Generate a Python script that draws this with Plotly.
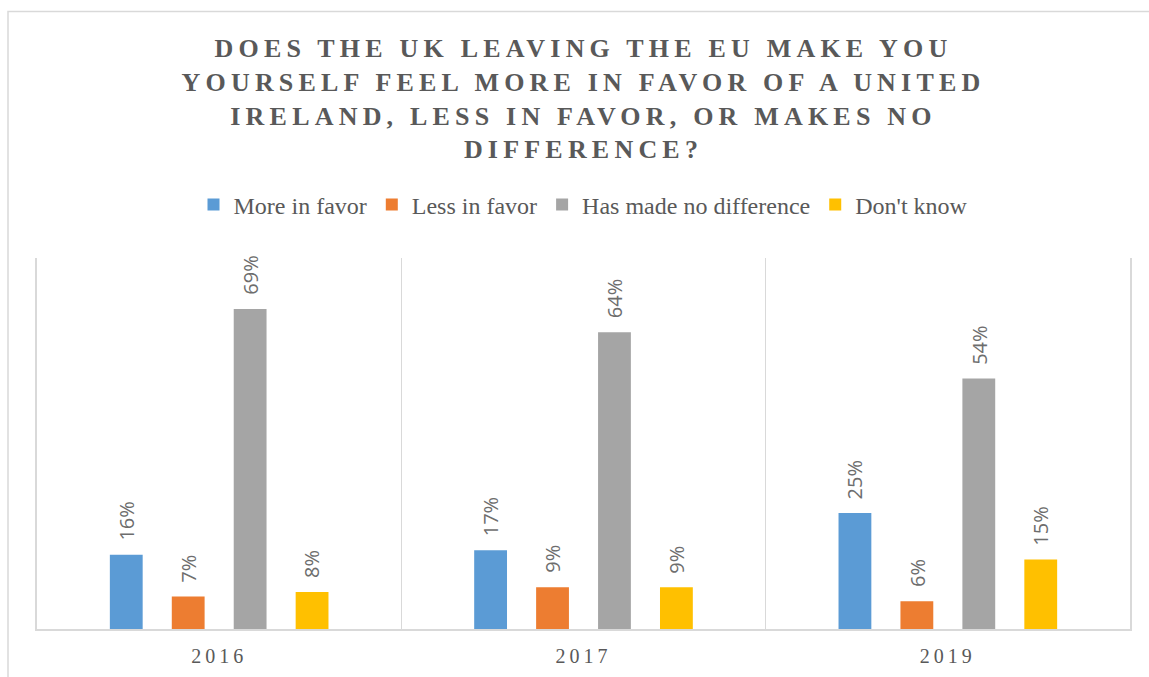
import plotly.graph_objects as go

# Survey years (categories) and responses per series, in percent
years = ["2016", "2017", "2019"]
series_names = ["More in favor", "Less in favor", "Has made no difference", "Don't know"]
more_in_favor = [16, 17, 25]
less_in_favor = [7, 9, 6]
no_difference = [69, 64, 54]
dont_know = [8, 9, 15]

series_values = [more_in_favor, less_in_favor, no_difference, dont_know]
colors = ["#5B9BD5", "#ED7D31", "#A5A5A5", "#FFC000"]

title_text = ("DOES THE UK LEAVING THE EU MAKE YOU<br>YOURSELF FEEL MORE IN FAVOR OF A UNITED"
              "<br>IRELAND, LESS IN FAVOR, OR MAKES NO<br>DIFFERENCE?")

W, H = 1149, 677
M = dict(l=37, r=19, t=258, b=48)
BARGAP = 0.32
BARGROUPGAP = 0.47

fig = go.Figure()
for name, vals, col in zip(series_names, series_values, colors):
    fig.add_trace(go.Bar(
        x=years, y=vals, name=name,
        marker=dict(color=col, line=dict(width=0)),
        hoverinfo="skip",
    ))

# value labels, rotated, sitting above each bar of the group
plot_w = W - M["l"] - M["r"]
plot_h = H - M["t"] - M["b"]
slot_px = plot_w / len(years) * (1 - BARGAP) / len(series_names)
annotations = []
for i, vals in enumerate(series_values):
    for k, v in enumerate(vals):
        annotations.append(dict(
            x=k, y=v, xref="x", yref="y",
            text=f"{v}%", showarrow=False,
            textangle=-90, xanchor="center", yanchor="bottom",
            xshift=(i - (len(series_names) - 1) / 2) * slot_px,
            yshift=12,
            font=dict(family="Open Sans", size=20, color="#6d6d6d"),
        ))

# outer frame of the chart area (right and bottom edges fall outside the page)
shapes = [dict(type="rect", xref="paper", yref="paper",
               x0=(8 - M["l"]) / plot_w, x1=(1250 - M["l"]) / plot_w,
               y0=-(750 - (H - M["b"])) / plot_h,
               y1=((H - M["b"]) - 11.5) / plot_h,
               line=dict(color="#d9d9d9", width=1.5), fillcolor="rgba(0,0,0,0)",
               layer="below")]

fig.update_layout(
    width=W, height=H,
    margin=M,
    paper_bgcolor="white", plot_bgcolor="white",
    barmode="group", bargap=BARGAP, bargroupgap=BARGROUPGAP,
    title=dict(
        text=title_text,
        x=0.5, xref="paper", xanchor="center",
        y=1 - 57 / H, yref="container", yanchor="top",
        font=dict(family="Liberation Serif", size=26, color="#595959", weight="bold"),
    ),
    legend=dict(
        orientation="h", x=0.5, xanchor="center", y=(H - M["b"] - 205) / plot_h,
        yanchor="middle",
        font=dict(family="Liberation Serif", size=24, color="#595959"),
        traceorder="normal",
    ),
    xaxis=dict(
        type="category", tickson="boundaries", showgrid=True,
        range=[-0.5, len(years) - 0.5],
        gridcolor="#d9d9d9", gridwidth=1,
        showline=True, linecolor="#d9d9d9", linewidth=1.5,
        ticks="", tickfont=dict(family="Liberation Serif", size=20, color="#595959"),
        ticklabelstandoff=8, automargin=False,
    ),
    yaxis=dict(
        range=[0, 80], showgrid=False, zeroline=False, showticklabels=False,
        showline=True, mirror=True, linecolor="#d9d9d9", linewidth=1.5, ticks="",
        automargin=False,
    ),
    annotations=annotations,
    shapes=shapes,
    showlegend=True,
)

# widen letter spacing of the title and year labels once the plot is drawn
post = """
var gd = document.getElementById('{plot_id}');
gd.querySelectorAll('.gtitle').forEach(function(e){ e.style.letterSpacing = '5.2px'; });
gd.querySelectorAll('.xtick text').forEach(function(e){ e.style.letterSpacing = '4px'; });
"""

fig.write_html("out.html", post_script=post, config={"displayModeBar": False})
